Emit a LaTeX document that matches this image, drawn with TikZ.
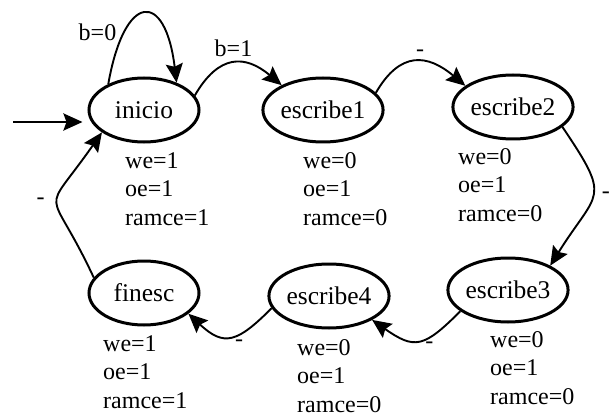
\documentclass[tikz,border=0pt]{standalone}
\usepackage{fontspec}
\setmainfont{Liberation Serif}
\usetikzlibrary{arrows.meta, shapes.geometric}

\begin{document}
\begin{tikzpicture}[x=1pt, y=-1pt,
  est/.style={ellipse, draw, line width=3pt, minimum width=110pt, minimum height=64pt, inner sep=0pt, font=\fontsize{25.5}{28}\selectfont},
  sal/.style={anchor=north west, align=left, inner sep=0pt, font=\fontsize{24}{28.5}\selectfont},
  tr/.style={-{Stealth[length=19pt, width=17pt, inset=3pt]}, line width=1.9pt},
  etq/.style={inner sep=2pt, font=\fontsize{24}{28}\selectfont}]
  \useasboundingbox (0,0) rectangle (616,417);

  % estados
  \node[est] (inicio) at (144,110) {inicio};
  \node[est] (escribe1) at (323,110) {escribe1};
  \node[est] (escribe2) at (513,107) {escribe2};
  \node[est] (escribe3) at (508,290) {escribe3};
  \node[est] (escribe4) at (329,296) {escribe4};
  \node[est] (finesc) at (144,293) {finesc};

  % salidas de cada estado
  \node[sal] (s-inicio) at (125,152) {we=1\\oe=1\\ramce=1};
  \node[sal] (s-escribe1) at (303,152) {we=0\\oe=1\\ramce=0};
  \node[sal] (s-escribe2) at (458,148) {we=0\\oe=1\\ramce=0};
  \node[sal] (s-escribe3) at (490,331) {we=0\\oe=1\\ramce=0};
  \node[sal] (s-escribe4) at (297,339) {we=0\\oe=1\\ramce=0};
  \node[sal] (s-finesc) at (103,335) {we=1\\oe=1\\ramce=1};

  % entrada
  \coordinate (ini) at (13,122);
  \draw[tr, line width=2.6pt, shorten >=5pt] (ini) -- (ini -| inicio.west);

  % transiciones
  \draw[tr] (inicio.144) to[out=80, in=97, looseness=3.5] node[etq, pos=0.25, left=5pt] {b=0} (inicio.40);
  \draw[tr] (inicio.16) to[out=60, in=140, looseness=1.4] node[etq, above=4pt] {b=1} (escribe1.149);
  \draw[tr] (escribe1.18) to[out=60, in=140, looseness=1.4] node[etq, pos=0.55, above=2pt] {-} (escribe2.156);
  \draw[tr] (escribe2.-22) to[out=-56, in=58, looseness=1.65] node[etq, right=6pt] {-} (escribe3.30);
  \draw[tr] (escribe3.204) to[out=225, in=-35, looseness=1.5] node[etq, pos=0.35, below=2pt] {-} (escribe4.-29);
  \draw[tr] (escribe4.192) to[out=225, in=-43, looseness=1.5] node[etq, pos=0.38, below=3pt] {-} (finesc.-25);
  \draw[tr] (finesc.163) to[out=115, in=235, looseness=1.9] node[etq, left=10pt] {-} (inicio.208);
\end{tikzpicture}
\end{document}
